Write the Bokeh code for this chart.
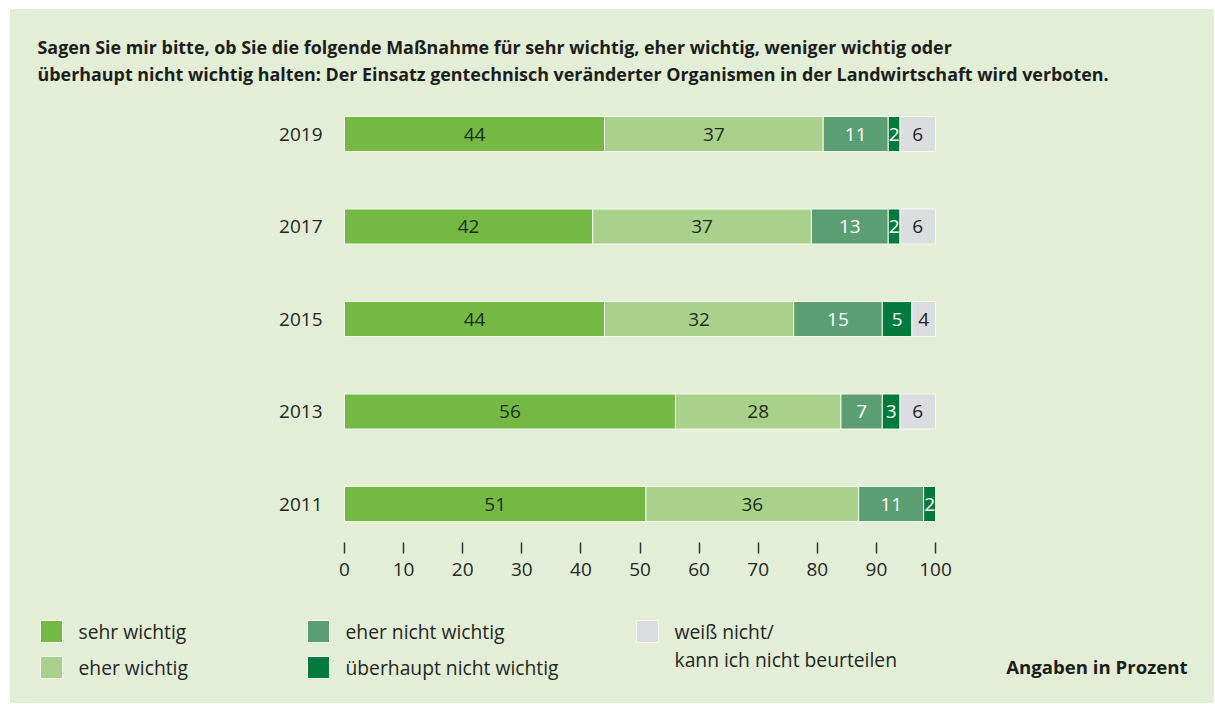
import numpy as np
from bokeh.plotting import figure
from bokeh.models import Range1d, FixedTicker, ColumnDataSource
from bokeh.layouts import column
from bokeh.core.properties import value
from bokeh.embed import file_html
from bokeh.resources import INLINE

# ---------------- data ----------------
years = ["2011", "2013", "2015", "2017", "2019"]
sehr_wichtig = [51, 56, 44, 42, 44]
eher_wichtig = [36, 28, 32, 37, 37]
eher_nicht_wichtig = [11, 7, 15, 13, 11]
ueberhaupt_nicht_wichtig = [2, 3, 5, 2, 2]
weiss_nicht = [0, 6, 4, 6, 6]

categories = ["sehr wichtig", "eher wichtig", "eher nicht wichtig",
              "überhaupt nicht wichtig", "weiß nicht/\nkann ich nicht beurteilen"]
x_ticks = [0, 10, 20, 30, 40, 50, 60, 70, 80, 90, 100]
title_lines = [
    "Sagen Sie mir bitte, ob Sie die folgende Maßnahme für sehr wichtig, eher wichtig, weniger wichtig oder",
    "überhaupt nicht wichtig halten: Der Einsatz gentechnisch veränderter Organismen in der Landwirtschaft wird verboten.",
]
note = "Angaben in Prozent"

# ---------------- style ----------------
FONT = "Open Sans"
BG = "#e2eed6"
colors = ["#74b944", "#aad18b", "#5b9e71", "#007b3d", "#dcdde0"]
label_colors = ["#1f2e1a", "#1f2e1a", "#ffffff", "#ffffff", "#222222"]
TXT = "#262626"

OX, OY = 10, 9            # white page margin around the green panel
W = 1204
BOTTOM_BORDER = 58
FRAME_BOTTOM_PAGE = 542.0
HA = int(FRAME_BOTTOM_PAGE - OY) + BOTTOM_BORDER
HB = 703 - (OY + HA)

X0_PAGE, X100_PAGE = 344.0, 935.0
SX = (X100_PAGE - X0_PAGE) / 100.0
Y_FIRST_PAGE, DY = 503.5, 92.5        # centre of first bar, spacing between bars


def px(xp):
    return (xp - X0_PAGE) / SX


def py(yp):
    return (Y_FIRST_PAGE - yp) / DY


pA = figure(width=W, height=HA, output_backend="svg", toolbar_location=None,
            x_range=Range1d(px(OX), px(OX + W)),
            y_range=Range1d(py(FRAME_BOTTOM_PAGE), py(OY)),
            min_border_left=0, min_border_right=0, min_border_top=0,
            min_border_bottom=BOTTOM_BORDER)
pA.background_fill_color = None
pA.border_fill_color = None
pA.outline_line_color = None
pA.grid.visible = False
pA.yaxis.visible = False

xa = pA.xaxis[0]
xa.ticker = FixedTicker(ticks=x_ticks)
xa.axis_line_color = None
xa.major_tick_in = 0
xa.major_tick_out = 11
xa.major_tick_line_color = "#333333"
xa.major_tick_line_width = 1.5
xa.minor_tick_line_color = None
xa.major_label_standoff = 9
xa.major_label_text_font = FONT
xa.major_label_text_font_size = "19px"
xa.major_label_text_color = TXT

series = [sehr_wichtig, eher_wichtig, eher_nicht_wichtig,
          ueberhaupt_nicht_wichtig, weiss_nicht]
vals = np.array(series, dtype=float)
rights = np.cumsum(vals, axis=0)
lefts = rights - vals
ypos = np.arange(len(years))
BAR_H = 35.0 / DY

for k in range(len(series)):
    src = ColumnDataSource(dict(y=ypos, left=lefts[k], right=rights[k],
                                mid=(lefts[k] + rights[k]) / 2,
                                lab=[str(int(v)) if v > 0 else "" for v in vals[k]]))
    pA.hbar(y="y", left="left", right="right", height=BAR_H, source=src,
            fill_color=colors[k], line_color="#f4f8ee", line_width=1)
    pA.text(x="mid", y="y", text="lab", source=src, text_align="center",
            text_baseline="middle", text_font=value(FONT),
            text_font_size="19px", text_color=label_colors[k])

# year labels
pA.text(x=[px(322)] * len(years), y=ypos, text=years, text_align="right",
        text_baseline="middle", text_font=value(FONT), text_font_size="19px",
        text_color=TXT)

# title
pA.text(x=[px(37)] * 2, y=[py(46), py(73)], text=title_lines, text_align="left",
        text_baseline="middle", text_font=value(FONT), text_font_size="17.9px",
        text_font_style="bold", text_color="#1d1d1b")

# ---------------- legend figure ----------------
pB = figure(width=W, height=HB, output_backend="svg", toolbar_location=None,
            x_range=Range1d(OX, OX + W), y_range=Range1d(OY + HA + HB, OY + HA),
            min_border=0)
pB.background_fill_color = None
pB.border_fill_color = None
pB.outline_line_color = None
pB.grid.visible = False
pB.axis.visible = False

col_x = [51, 51, 318, 318, 647]
row_y = [631, 667, 631, 667, 631]
LINE_STEP = 28
pB.rect(x=col_x, y=row_y, width=22, height=22, fill_color=colors,
        line_color="#f4f8ee", line_width=1)
tx, ty, tt = [], [], []
for cx, ry, lab in zip(col_x, row_y, categories):
    for j, line in enumerate(lab.split("\n")):
        tx.append(cx + 27)
        ty.append(ry + j * LINE_STEP)
        tt.append(line)
pB.text(x=tx, y=ty, text=tt, text_align="left",
        text_baseline="middle", text_font=value(FONT), text_font_size="19.3px",
        text_color=TXT)
pB.text(x=[1187], y=[666], text=[note], text_align="right", text_baseline="middle",
        text_font=value(FONT), text_font_size="18.6px", text_font_style="bold",
        text_color="#1d1d1b")

layout = column(pA, pB, spacing=0, margin=(OY, 0, 0, OX),
                styles={"background-color": BG})
open("out.html", "w").write(file_html(layout, INLINE))
